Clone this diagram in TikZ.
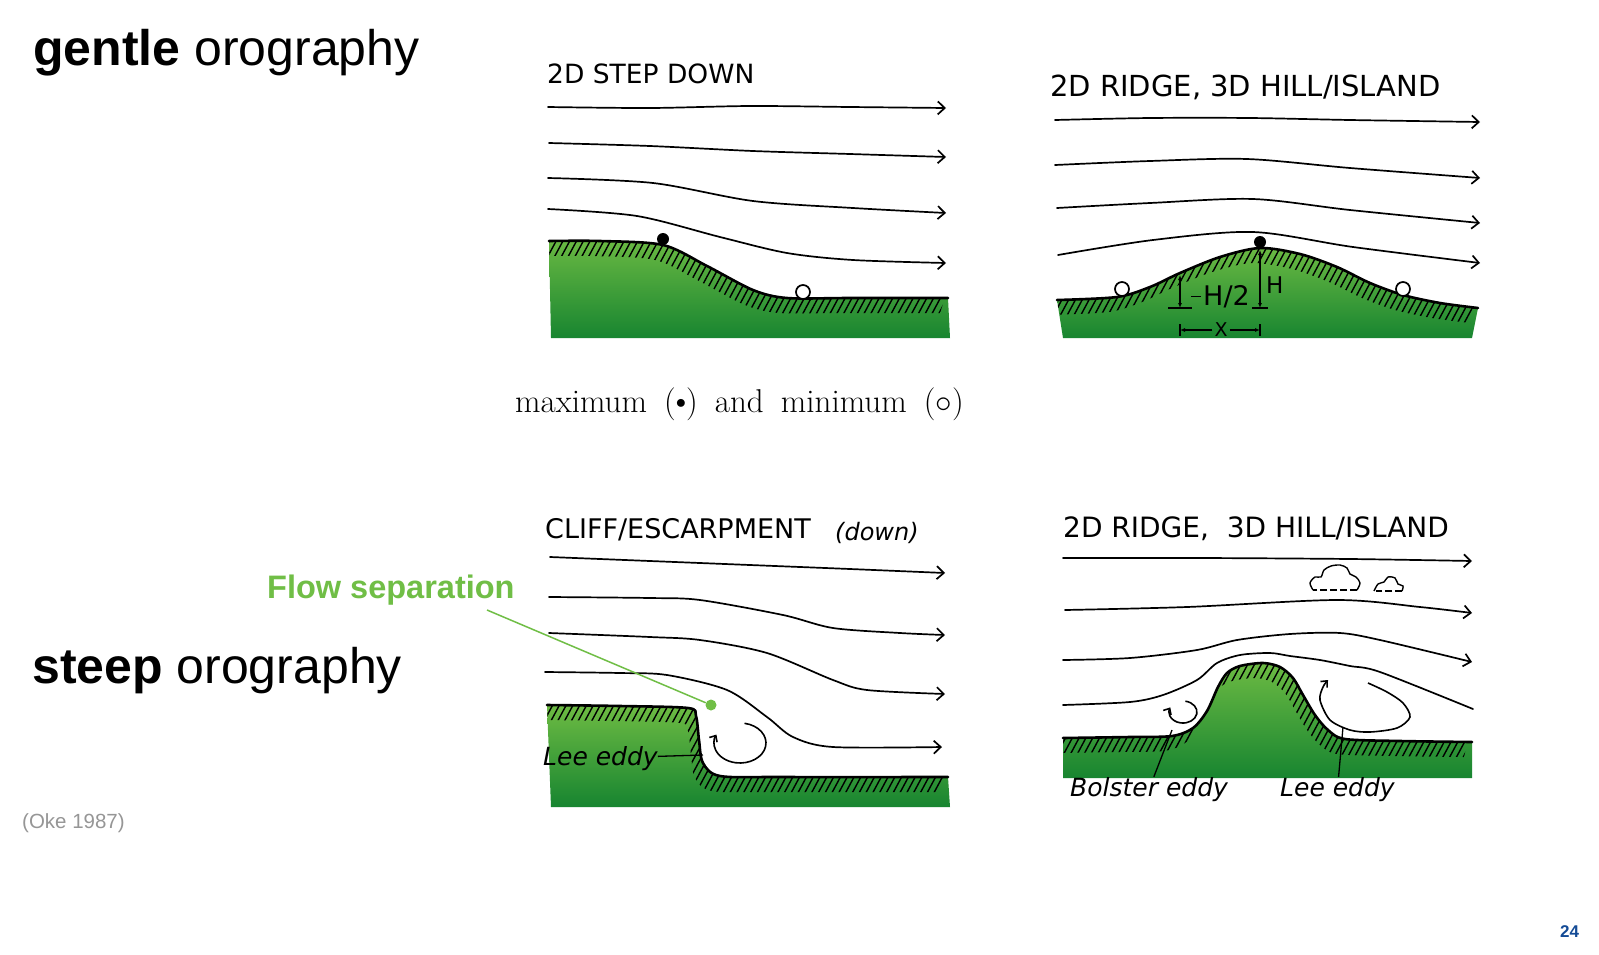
\documentclass[tikz,border=0pt]{standalone}
\usepackage{fix-cm}
\usepackage{fontspec}
\newfontfamily\arialfont{Liberation Sans}
\newfontfamily\labelfont{DejaVu Sans}
\usetikzlibrary{arrows.meta}

\definecolor{gtop}{RGB}{114,190,68}
\definecolor{gbot}{RGB}{22,132,48}
\definecolor{sepgreen}{RGB}{112,190,70}
\definecolor{pagenum}{RGB}{20,75,150}
\definecolor{refgray}{RGB}{150,150,150}

\newcommand{\stepline}{plot[smooth] coordinates {(549,241) (600,241) (663,245) (707,266) (753,290) (787,298) (850,298) (948,298)}}
\newcommand{\ridgeline}{plot[smooth] coordinates {(1057,300) (1117,297) (1150,287) (1180,273) (1220,257) (1260,248) (1300,254) (1337,267) (1370,283) (1403,295) (1440,303) (1478,308)}}
\newcommand{\cliffline}{plot[smooth, tension=0.5] coordinates {(547,705) (620,706) (688,708) (696,716) (699,740) (703,763) (720,776) (780,777) (948,777)}}
\newcommand{\hillline}{plot[smooth] coordinates {(1063,738) (1130,737) (1172,736) (1193,728) (1207,711) (1218,687) (1227,673) (1240,666) (1263,663) (1280,667) (1293,678) (1303,695) (1315,715) (1328,730) (1345,739) (1400,741) (1472,742)}}

\begin{document}
\begin{tikzpicture}[
   x=1pt, y=-1pt,
   flowline/.style = {line width=1.7pt, line cap=round, -{Straight Barb[length=7pt,width=13pt]}},
   ground/.style = {top color=gtop, bottom color=gbot},
   surface/.style = {line width=2.6pt, line cap=round},
   hatch/.style = {line width=1.4pt},
   maxdot/.style = {circle, fill=black, inner sep=0pt, minimum size=12pt},
   mindot/.style = {circle, draw=black, fill=white, line width=1.7pt, inner sep=0pt, minimum size=14pt},
   eddy/.style = {line width=1.6pt, -{Straight Barb[length=5pt,width=9pt]}},
   leader/.style = {line width=1.3pt},
   dimline/.style = {line width=1.3pt, {Latex[length=5pt,width=4pt]}-{Latex[length=5pt,width=4pt]}},
   cloud/.style = {line width=1.4pt},
   title/.style = {anchor=base west, inner sep=0pt, font=\labelfont\fontsize{#1}{#1}\selectfont},
   tag/.style = {anchor=base west, inner sep=0pt, font=\labelfont\itshape\fontsize{#1}{#1}\selectfont},
   heading/.style = {anchor=base west, inner sep=0pt, font=\arialfont\fontsize{#1}{#1}\selectfont}]

   \path[use as bounding box, fill=white] (0,0) rectangle (1599,954);

   \node[heading=50] (gentle) at (33,65) {\textbf{gentle} orography};
   \node[heading=50] (steep) at (32,683) {\textbf{steep} orography};
   \node[heading=32.5, text=sepgreen] (flowsep) at (267,598) {\textbf{Flow separation}};
   \node[heading=20.5, text=refgray] (oke) at (22,828) {(Oke 1987)};
   \node[heading=17, text=pagenum] (page) at (1560,937) {\textbf{24}};
   \node[anchor=base west, inner sep=0pt, font=\fontsize{33}{40}\selectfont] (legend) at (515,412)
      {\spaceskip=0.52em\relax maximum (\raisebox{0.1em}{\scalebox{0.62}{$\bullet$}}) and minimum ($\circ$)};

   \node[title=26.5] (t1) at (547,83) {2D STEP DOWN};
   \begin{scope}
      \clip \stepline -- (950,338) -- (551,338) -- cycle;
      \shade[ground] (540,230) rectangle (960,340);
      \clip[xshift=-8pt, yshift=-15pt] \stepline -- (980,200) -- (520,200) -- cycle;
      \foreach \x in {480,486.8,...,960} \draw[hatch] (\x,345) -- ++(60,-112);
   \end{scope}
   \draw[surface] \stepline;
   \draw[flowline] plot[smooth] coordinates {(548,107) (650,108) (750,106) (850,107) (946,108)};
   \draw[flowline] plot[smooth] coordinates {(549,143) (650,146) (753,151) (850,154) (946,157)};
   \draw[flowline] plot[smooth] coordinates {(548,178) (653,183) (753,201) (853,208) (946,213)};
   \draw[flowline] plot[smooth] coordinates {(548,209) (637,216) (720,237) (787,253) (853,260) (946,263)};
   \node[maxdot] (max1) at (663,239) {};
   \node[mindot] (min1) at (803,292) {};

   \node[title=29] (t2) at (1050,96) {2D RIDGE, 3D HILL/ISLAND};
   \begin{scope}
      \clip \ridgeline -- (1472,338) -- (1063,338) -- cycle;
      \shade[ground] (1050,240) rectangle (1480,340);
      \clip[xshift=-8pt, yshift=-15pt] \ridgeline -- (1500,200) -- (1030,200) -- cycle;
      \foreach \x in {990,996.8,...,1480} \draw[hatch] (\x,345) -- ++(60,-112);
   \end{scope}
   \draw[surface] \ridgeline;
   \draw[flowline] plot[smooth] coordinates {(1055,120) (1150,118) (1250,118) (1350,120) (1480,122)};
   \draw[flowline] plot[smooth] coordinates {(1055,165) (1150,161) (1247,159) (1350,168) (1480,178)};
   \draw[flowline] plot[smooth] coordinates {(1057,208) (1150,203) (1253,199) (1350,210) (1480,223)};
   \draw[flowline] plot[smooth] coordinates {(1058,255) (1153,240) (1253,232) (1353,247) (1480,263)};
   \node[maxdot] (max2) at (1260,242) {};
   \node[mindot] (min2) at (1122,289) {};
   \node[mindot] (min3) at (1403,289) {};

   \coordinate (hpeak) at (1260,250);
   \coordinate (hbase) at (1260,308);
   \coordinate (hhtop) at (1180,275);
   \coordinate (hhbase) at (1180,308);
   \coordinate (xleft) at (1180,330);
   \coordinate (xright) at (1260,330);
   \node[title=23] (hlab) at (1266,293) {H};
   \node[title=27] (hhalf) at (1203,305) {H/2};
   \node[font=\labelfont\fontsize{19}{19}\selectfont, inner sep=2pt] (xlab) at (1221,330) {X};
   \draw[dimline] (hpeak) -- (hbase);
   \draw[dimline] (hhtop) -- (hhbase);
   \draw[leader] ([xshift=-8pt]hbase) -- ([xshift=8pt]hbase);
   \draw[leader] ([xshift=-12pt]hhbase) -- ([xshift=12pt]hhbase);
   \draw[leader] ([xshift=-12pt]hhalf.west) -- ([xshift=-2pt]hhalf.west);
   \draw[leader, -{Latex[length=5pt,width=4pt]}] (xlab) -- (xleft);
   \draw[leader, -{Latex[length=5pt,width=4pt]}] (xlab) -- (xright);
   \draw[leader] ([yshift=6pt]xleft) -- ([yshift=-6pt]xleft);
   \draw[leader] ([yshift=6pt]xright) -- ([yshift=-6pt]xright);

   \node[title=27] (t3) at (545,538) {CLIFF/ESCARPMENT};
   \node[tag=24] (t3b) at (835,540) {(down)};
   \begin{scope}
      \clip \cliffline -- (950,807) -- (551,807) -- cycle;
      \shade[ground] (540,700) rectangle (960,808);
      \clip[xshift=-8pt, yshift=-15pt] \cliffline -- (980,660) -- (520,660) -- cycle;
      \foreach \x in {480,486.8,...,960} \draw[hatch] (\x,815) -- ++(65,-121);
   \end{scope}
   \draw[surface] \cliffline;
   \draw[flowline] plot[smooth] coordinates {(550,557) (650,561) (750,565) (850,569) (945,573)};
   \draw[flowline] plot[smooth] coordinates {(549,597) (650,598) (700,600) (783,615) (833,628) (900,633) (945,635)};
   \draw[flowline] plot[smooth] coordinates {(549,633) (650,637) (700,640) (767,653) (833,680) (867,690) (945,694)};
   \draw[flowline] plot[smooth] coordinates {(545,672) (620,673) (667,675) (727,690) (767,717) (793,737) (833,747) (942,747)};
   \coordinate (eddy1) at (744.5,723.3);
   \draw[eddy] (eddy1) arc[start angle=-80, end angle=205, x radius=26, y radius=20];
   \node[tag=25] (lee1) at (543,765) {Lee eddy};
   \coordinate (leetip1) at (703,755);
   \draw[leader] (lee1) -- (leetip1);
   \node[circle, fill=sepgreen, inner sep=0pt, minimum size=11pt] (sepdot) at (711,705) {};
   \coordinate (sepstart) at (487,610);
   \draw[sepgreen, line width=1.5pt] (sepstart) -- (sepdot);

   \node[title=28] (t4) at (1063,537) {2D RIDGE,\ \ 3D HILL/ISLAND};
   \begin{scope}
      \clip \hillline -- (1472,778) -- (1063,778) -- cycle;
      \shade[ground] (1050,655) rectangle (1480,780);
      \clip[xshift=-8pt, yshift=-15pt] \hillline -- (1500,620) -- (1030,620) -- cycle;
      \foreach \x in {990,996.8,...,1480} \draw[hatch] (\x,790) -- ++(75,-140);
   \end{scope}
   \draw[surface] \hillline;
   \draw[flowline] plot[smooth] coordinates {(1063,558) (1200,558) (1350,559) (1472,561)};
   \draw[flowline] plot[smooth] coordinates {(1065,610) (1187,607) (1337,600) (1420,607) (1472,613)};
   \draw[flowline] plot[smooth] coordinates {(1063,660) (1130,658) (1197,650) (1237,640) (1290,634) (1340,633) (1380,640) (1472,662)};
   \draw[flowline, -] plot[smooth] coordinates {(1063,705) (1130,702) (1163,695) (1197,680) (1217,663) (1240,655) (1270,653) (1290,656) (1320,660) (1350,666) (1380,672) (1473,709)};
   \coordinate (eddy2) at (1185.4,701.2);
   \draw[eddy] (eddy2) arc[start angle=-80, end angle=205, x radius=14, y radius=11];
   \draw[eddy] plot[smooth] coordinates {(1368,683) (1387,692) (1403,703) (1410,717) (1397,728) (1370,732) (1350,730) (1330,720) (1320,700) (1323,687) (1328,680)};
   \draw[cloud] plot[smooth] coordinates {(1313,590) (1310,583) (1315,577) (1321,577) (1324,570) (1331,566) (1340,565) (1347,568) (1350,574) (1356,577) (1360,583) (1357,590)};
   \draw[cloud, dash pattern=on 7pt off 3pt] (1357,590) -- (1313,590);
   \draw[cloud] plot[smooth] coordinates {(1374,591) (1378,584) (1384,582) (1388,577) (1395,578) (1398,584) (1403,586) (1402,591)};
   \draw[cloud, dash pattern=on 7pt off 3pt] (1402,591) -- (1376,591);
   \node[tag=25] (bolster) at (1070,796) {Bolster eddy};
   \node[tag=25] (lee2) at (1280,796) {Lee eddy};
   \coordinate (bolstertip) at (1172,730);
   \coordinate (leetip2) at (1343,727);
   \draw[leader] (bolster) -- (bolstertip);
   \draw[leader] (lee2) -- (leetip2);
\end{tikzpicture}
\end{document}
